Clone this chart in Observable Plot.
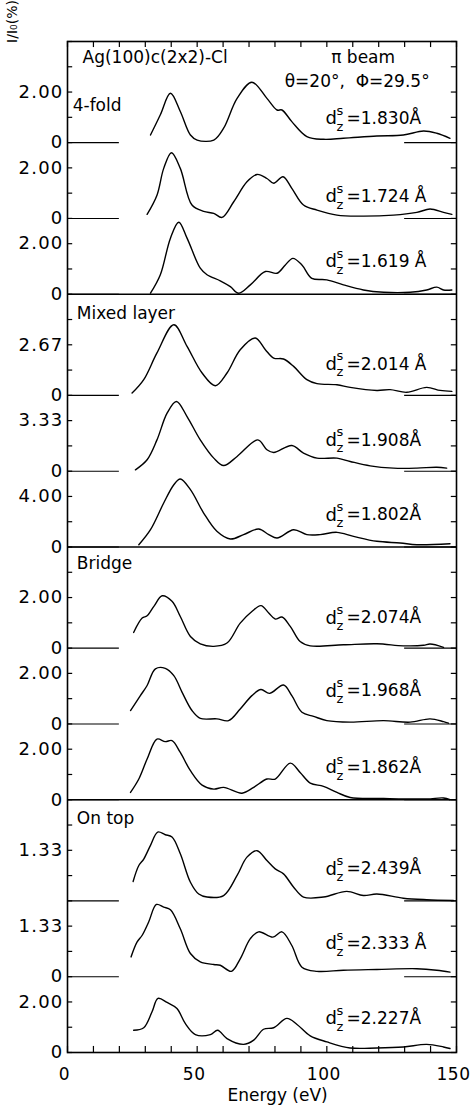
<!DOCTYPE html>
<html><head><meta charset="utf-8">
<script src="https://cdn.jsdelivr.net/npm/d3@7"></script>
<script src="https://cdn.jsdelivr.net/npm/@observablehq/plot@0.6"></script>
<style>
body{margin:0;background:#fff;}
#chart svg{display:block;}
g[aria-label="y-axis tick label"] text{letter-spacing:1.2px;}
g[aria-label="x-axis tick label"] text{letter-spacing:0.5px;}
</style></head><body><div id="chart"></div>
<script>
// ---- data ----
const groupNames = ["4-fold", "Mixed layer", "Bridge", "On top"];
const spacings = ["1.830Å", "1.724 Å", "1.619 Å", "2.014 Å", "1.908Å", "1.802Å",
                  "2.074Å", "1.968Å", "1.862Å", "2.439Å", "2.333 Å", "2.227Å"];
// intensity value printed at the upper tick of each panel
const scaleValues = [2.00, 2.00, 2.00, 2.67, 3.33, 4.00, 2.00, 2.00, 2.00, 1.33, 1.33, 2.00];
const scaleLabels = ["2.00", "2.00", "2.00", "2.67", "3.33", "4.00", "2.00", "2.00", "2.00", "1.33", "1.33", "2.00"];
const zeroLabelShown = [true, true, true, true, true, true, true, true, true, false, true, true];
const energyTicks = [0, 50, 100, 150];
const energyMinorTicks = [0, 10, 20, 30, 40, 50, 60, 70, 80, 90, 100, 110, 120, 130, 140, 150];
const zeroMarkLeft = [0, 20];
const zeroMarkRight = [130, 150];
const title = "Ag(100)c(2x2)-Cl";
const beamText = "π beam";
const angleText = "θ=20°,\u00a0 Φ=29.5°";
const xTitle = "Energy (eV)";
const yTitle = "I/I₀(%)";

// I/I0 (%) vs energy (eV)
const fold4_1830 = [[32,0.30],[35.8,1.10],[39.7,1.95],[43.5,1.23],[47.4,0.30],[50,0.10],[56.4,0.10],[60.2,0.57],[65.4,1.75],[71.1,2.39],[76.9,1.75],[80.8,1.29],[82.7,1.29],[86.5,0.83],[92.3,0.24],[98.7,0.13],[106.4,0.17],[119.3,0.26],[129.5,0.30],[137.3,0.46],[142.4,0.37],[147.5,0.17]];
const fold4_1724 = [[30.7,0.16],[34.5,0.92],[37.1,1.98],[40.1,2.60],[43.5,1.98],[48,0.53],[52.5,0.28],[56.4,0.20],[59.6,0.04],[64.1,0.66],[69.2,1.45],[73.1,1.74],[76.9,1.58],[79.5,1.39],[83.1,1.65],[86.5,1.19],[91,0.53],[96.2,0.33],[103.9,0.13],[112.9,0.09],[125.7,0.13],[134.7,0.24],[139.8,0.37],[145,0.24],[148.2,0.16]];
const fold4_1619 = [[32,0.04],[35.8,0.77],[39.7,2.22],[42.9,2.85],[46.1,2.22],[51.2,1.03],[53.8,0.77],[58.9,0.53],[62.8,0.30],[66,0.04],[70.5,0.37],[76.3,0.90],[80.8,0.83],[84,1.16],[86.9,1.42],[90.4,1.16],[94.2,0.63],[100,0.57],[106.4,0.37],[114.1,0.17],[121.9,0.08],[132.1,0.08],[138.5,0.17],[142.4,0.28],[145,0.17],[148.2,0.17]];
const mixed_2014 = [[24.9,0.12],[29.4,0.83],[34.5,2.24],[41,3.73],[46.1,2.59],[51.9,1.18],[57,0.51],[61.5,1.18],[66.6,2.41],[72.4,3.03],[76.3,2.41],[79.5,1.97],[83.3,1.92],[87.2,1.53],[92.3,0.83],[96.2,0.62],[103.9,0.56],[109,0.42],[119.3,0.26],[124.4,0.30],[130.8,0.16],[138.5,0.42],[143.7,0.26],[148.2,0.21]];
const mixed_1908 = [[26.2,0.09],[30.7,0.75],[34.5,2.06],[38.4,3.82],[42,4.59],[46.1,3.60],[51.2,2.06],[56.4,0.86],[60.2,0.37],[65.4,0.97],[73.4,2.06],[76.9,1.41],[79.5,1.23],[86.5,1.69],[91,1.19],[96.2,0.86],[103.9,0.86],[109,0.64],[116.7,0.35],[125.7,0.20],[134.7,0.20],[142.4,0.26],[146.2,0.20]];
const mixed_1802 = [[27.5,0.18],[32,1.37],[37.1,3.48],[41,4.93],[43.5,5.38],[47.4,4.54],[52.5,2.69],[57.6,1.24],[62.8,0.63],[67.9,0.98],[73.7,1.42],[77.6,0.98],[80.8,0.71],[87.2,1.37],[92.3,0.98],[97.4,0.98],[103.9,1.16],[110.3,0.84],[119.3,0.45],[128.3,0.32],[134.7,0.18],[147.5,0.26]];
const bridge_2074 = [[25.5,0.62],[28.8,1.19],[30.7,1.28],[33.3,1.65],[36.5,2.07],[40.3,1.85],[43.5,1.25],[47.4,0.46],[51.2,0.17],[56.4,0.07],[61.5,0.20],[66.6,0.99],[71.1,1.45],[74.6,1.68],[77.6,1.39],[80.1,1.15],[82.7,1.23],[85.9,0.86],[89.7,0.26],[93.6,0.09],[106.4,0.13],[119.3,0.17],[129.5,0.09],[137.3,0.11],[139.8,0.16],[145,0.03]];
const bridge_1968 = [[24.3,0.53],[28.1,1.12],[30.7,1.52],[33.9,2.18],[37.7,2.20],[41,1.91],[44.2,1.25],[48,0.53],[51.2,0.22],[57.6,0.20],[62.1,0.13],[66.6,0.59],[71.1,1.12],[74.6,1.36],[77.9,1.21],[83.3,1.54],[86.5,1.12],[90.4,0.46],[94.9,0.30],[100,0.13],[109,0.07],[121.9,0.13],[132.1,0.07],[139.8,0.20],[145,0.09],[146.9,0.03]];
const bridge_1862 = [[24.3,0.29],[27.5,0.82],[30.7,1.61],[34.5,2.40],[37.7,2.30],[40.3,2.34],[43.5,1.87],[47.4,1.15],[51.9,0.58],[56.4,0.42],[60.2,0.49],[67.3,0.26],[71.8,0.49],[76.9,0.82],[80.1,0.82],[85.9,1.45],[89.7,1.08],[93.6,0.66],[98.7,0.53],[103.9,0.29],[109,0.09],[121.9,0.05],[138.5,0.03],[145,0.07],[147.5,0.0]];
const ontop_2439 = [[25.3,0.51],[27.5,0.93],[29.4,1.10],[32,1.46],[34.8,1.81],[37.7,1.74],[40.3,1.68],[43.5,1.24],[47.4,0.49],[50.6,0.18],[53.8,0.10],[60.2,0.14],[65.4,0.67],[69.2,1.15],[73.1,1.32],[76.9,1.06],[80.1,0.84],[83.3,0.71],[87.2,0.36],[91,0.10],[98.7,0.10],[107.7,0.25],[114.1,0.14],[119.3,0.18],[129.5,0.07],[138.5,0.03],[148.8,0.01]];
const ontop_2333 = [[24.5,0.52],[26.8,0.91],[28.8,1.09],[31.3,1.44],[34.3,1.90],[37.1,1.83],[39.7,1.76],[43.5,1.26],[47.4,0.61],[51.2,0.39],[56.4,0.32],[58.9,0.30],[63.2,0.14],[66.6,0.47],[70.5,1.00],[73.7,1.18],[79.2,1.04],[82.7,1.18],[86.5,0.82],[90.4,0.25],[96.2,0.14],[106.4,0.17],[119.3,0.19],[134.7,0.21],[142.4,0.17],[147.5,0.12]];
const ontop_2227 = [[25.5,0.88],[29.4,0.98],[32.6,1.61],[34.9,2.14],[38.4,1.98],[42.2,1.74],[45.4,1.15],[49.3,0.71],[55.1,0.71],[57.9,0.88],[61.5,0.55],[67.9,0.32],[71.8,0.49],[75.6,0.92],[79.5,0.98],[84.6,1.35],[88.5,1.11],[93.6,0.66],[100,0.42],[109,0.18],[119.3,0.18],[129.5,0.22],[138.5,0.32],[145,0.22],[147.5,0.16]];

const curves = [fold4_1830, fold4_1724, fold4_1619, mixed_2014, mixed_1908, mixed_1802,
                bridge_2074, bridge_1968, bridge_1862, ontop_2439, ontop_2333, ontop_2227];

// ---- layout (in tick-step units of the stacked y scale) ----
const STEPS = 40;            // 4 groups x 10 steps
const groupHeight = 10;
const baseOf = i => STEPS - groupHeight * Math.floor(i / 3) - 4 - 3 * (i % 3);
const labelLift = [0.95, 0.87, 1.29, 1.23, 1.23, 1.27, 1.19, 1.31, 1.27, 1.27, 1.31, 1.35];
const groupLabelY = [37.47, 29.23, 19.33, 9.25];

const rows = [];
curves.forEach((c, i) => {
  const base = baseOf(i);
  c.forEach(([E, I]) => rows.push({panel: i, E, y: base + I * 2 / scaleValues[i]}));
});

const tickText = new Map();
scaleLabels.forEach((s, i) => {
  const b = baseOf(i);
  if (zeroLabelShown[i]) tickText.set(b, "0");
  tickText.set(b + 2, s);
});
const yTickPos = [...tickText.keys()];

const baselines = curves.map((c, i) => baseOf(i));
const minorY = d3.range(0, STEPS + 1);
const dLabels = spacings.map((s, i) => ({x: 99.5, y: baseOf(i) + labelLift[i], t: "=" + s}));
const gLabels = groupNames.map((g, i) => ({x: i === 0 ? 2 : 3.6, y: groupLabelY[i], t: g}));

const chart = Plot.plot({
  width: 471, height: 1105,
  marginLeft: 67, marginRight: 15, marginTop: 41, marginBottom: 53,
  x: {domain: [0, 150]},
  y: {domain: [0, STEPS]},
  style: {fontFamily: "DejaVu Sans", fontSize: "17px", color: "#000", background: "#fff"},
  marks: [
    // inward ticks
    Plot.ruleY(minorY, {x1: 0, x2: 2, stroke: "#000", strokeWidth: 1.2}),
    Plot.ruleY(minorY, {x1: 148, x2: 150, stroke: "#000", strokeWidth: 1.2}),
    Plot.ruleX(energyMinorTicks, {y1: 0, y2: 0.24, stroke: "#000", strokeWidth: 1.2}),
    Plot.ruleX(energyMinorTicks, {y1: STEPS - 0.24, y2: STEPS, stroke: "#000", strokeWidth: 1.2}),
    // zero marks
    Plot.ruleY(baselines, {x1: zeroMarkLeft[0], x2: zeroMarkLeft[1], stroke: "#000", strokeWidth: 1.1}),
    Plot.ruleY(baselines, {x1: zeroMarkRight[0], x2: zeroMarkRight[1], stroke: "#000", strokeWidth: 1.1}),
    // group separators + frame
    Plot.ruleY([10, 20, 30], {stroke: "#000", strokeWidth: 1.5}),
    Plot.frame({stroke: "#000", strokeWidth: 1.6}),
    // curves
    Plot.line(rows, {x: "E", y: "y", z: "panel", curve: "catmull-rom", stroke: "#000", strokeWidth: 1.4}),
    // axes
    Plot.axisY({ticks: yTickPos, tickFormat: d => tickText.get(d), tickSize: 0, tickPadding: 4, fontSize: 18, label: null}),
    Plot.axisX({ticks: energyTicks, tickSize: 0, tickPadding: 15, fontSize: 17, dx: -3, label: null}),
    Plot.text([{x: 81, t: xTitle}], {x: "x", text: "t", frameAnchor: "bottom", textAnchor: "middle", lineAnchor: "middle", dy: 43, fontSize: 17}),
    Plot.text([yTitle], {frameAnchor: "top-left", textAnchor: "middle", lineAnchor: "middle", dx: -55, dy: -20, rotate: -90, fontSize: 14}),
    // annotations
    Plot.text([{x: 5.8, y: 39.37, t: title}], {x: "x", y: "y", text: "t", textAnchor: "start", fontSize: 17}),
    Plot.text([{x: 114, y: 39.37, t: beamText}], {x: "x", y: "y", text: "t", fontSize: 17}),
    Plot.text([{x: 111.7, y: 38.42, t: angleText}], {x: "x", y: "y", text: "t", fontSize: 17}),
    Plot.text(gLabels, {x: "x", y: "y", text: "t", textAnchor: "start", fontSize: 17}),
    Plot.text(dLabels, {x: "x", y: "y", text: () => "d", textAnchor: "start", fontSize: 18}),
    Plot.text(dLabels, {x: "x", y: "y", text: () => "s", textAnchor: "start", dx: 11, dy: -8, fontSize: 13}),
    Plot.text(dLabels, {x: "x", y: "y", text: () => "z", textAnchor: "start", dx: 11, dy: 8, fontSize: 13}),
    Plot.text(dLabels, {x: "x", y: "y", text: "t", textAnchor: "start", dx: 21, fontSize: 17})
  ]
});
document.getElementById("chart").appendChild(chart);
</script>
</body></html>
